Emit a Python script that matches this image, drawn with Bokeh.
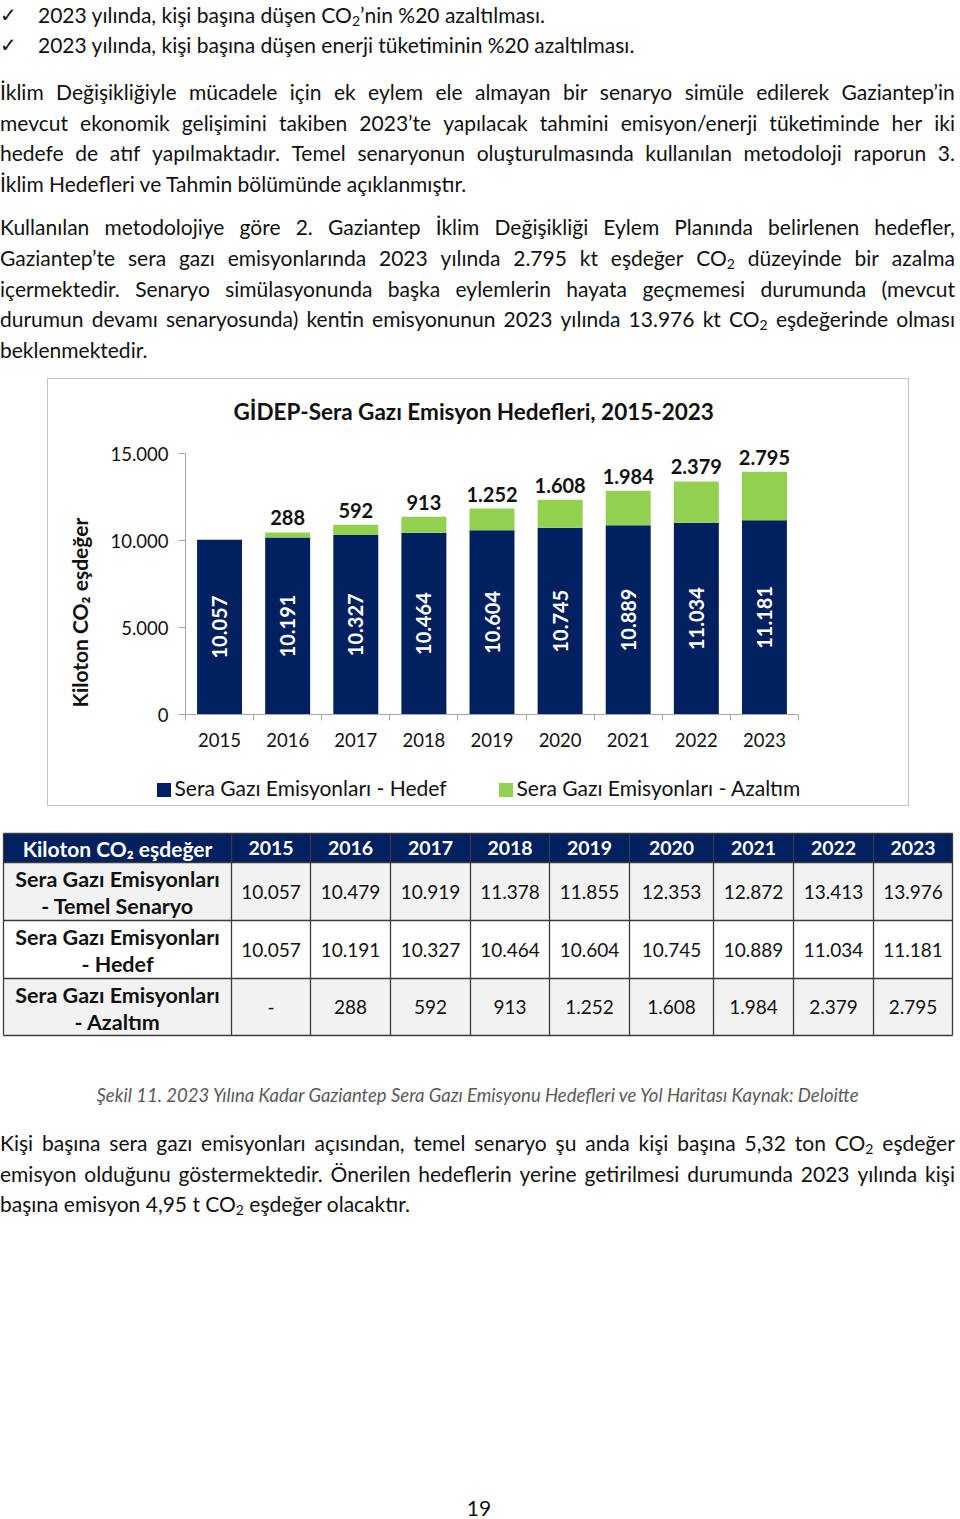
import math
from bokeh.plotting import figure
from bokeh.models import Range1d, FixedTicker, Title, Div, Spacer, ColumnDataSource
from bokeh.layouts import column, row
from bokeh.core.properties import value
from bokeh.embed import file_html
from bokeh.resources import INLINE

# ---------------- data ----------------
years = [2015, 2016, 2017, 2018, 2019, 2020, 2021, 2022, 2023]
temel = [10057, 10479, 10919, 11378, 11855, 12353, 12872, 13413, 13976]
hedef = [10057, 10191, 10327, 10464, 10604, 10745, 10889, 11034, 11181]
azaltim = [0, 288, 592, 913, 1252, 1608, 1984, 2379, 2795]
y_ticks = [0, 5000, 10000, 15000]
series_names = ["Sera Gazı Emisyonları - Hedef", "Sera Gazı Emisyonları - Azaltım"]
row_heads = ["- Temel Senaryo", "- Hedef", "- Azaltım"]
row_prefix = "Sera Gazı Emisyonları"
table_corner = "Kiloton CO₂ eşdeğer"
chart_title = "GİDEP-Sera Gazı Emisyon Hedefleri, 2015-2023"
y_title = "Kiloton CO₂ eşdeğer"

NAVY = "#002060"
GREEN = "#92D050"
FONT = "Lato"
TXT = "#111111"
PAGE_W = 960


def tr(v):
    return f"{v:,}".replace(",", ".")


SUB2 = "CO<sub style='font-size:14px;vertical-align:-3px;line-height:0'>2</sub>"
CHECK = ("<span style=\"position:absolute;left:-38px;font-family:'DejaVu Sans';"
         "font-size:20px\">✓</span>")
TEXT_W = 955


# ---------------- text blocks ----------------
def jline(top, text):
    spans = "".join(f"<span>{w.replace('{CO2}', SUB2)}</span>" for w in text.split(" "))
    return (f"<div style='position:absolute;left:0;top:{top}px;width:{TEXT_W}px;height:30px;"
            f"line-height:30px;display:flex;justify-content:space-between;white-space:nowrap;'>"
            f"{spans}</div>")


def lline(top, text, left=0, pre=""):
    return (f"<div style='position:absolute;left:{left}px;top:{top}px;width:{TEXT_W-left}px;"
            f"height:30px;line-height:30px;white-space:nowrap;'>{pre}{text.replace('{CO2}', SUB2)}</div>")


top_lines = [
    (15, "2023 yılında, kişi başına düşen {CO2}’nin %20 azaltılması.", "bullet"),
    (45, "2023 yılında, kişi başına düşen enerji tüketiminin %20 azaltılması.", "bullet"),
    (92, "İklim Değişikliğiyle mücadele için ek eylem ele almayan bir senaryo simüle edilerek Gaziantep’in", "j"),
    (123, "mevcut ekonomik gelişimini takiben 2023’te yapılacak tahmini emisyon/enerji tüketiminde her iki", "j"),
    (153, "hedefe de atıf yapılmaktadır. Temel senaryonun oluşturulmasında kullanılan metodoloji raporun 3.", "j"),
    (184, "İklim Hedefleri ve Tahmin bölümünde açıklanmıştır.", "l"),
    (227, "Kullanılan metodolojiye göre 2. Gaziantep İklim Değişikliği Eylem Planında belirlenen hedefler,", "j"),
    (258, "Gaziantep’te sera gazı emisyonlarında 2023 yılında 2.795 kt eşdeğer {CO2} düzeyinde bir azalma", "j"),
    (289, "içermektedir. Senaryo simülasyonunda başka eylemlerin hayata geçmemesi durumunda (mevcut", "j"),
    (319, "durumun devamı senaryosunda) kentin emisyonunun 2023 yılında 13.976 kt {CO2} eşdeğerinde olması", "j"),
    (350, "beklenmektedir.", "l"),
]


def render(lines, offset):
    out = []
    for y, t, kind in lines:
        top = y - offset - 15
        if kind == "j":
            out.append(jline(top, t))
        elif kind == "bullet":
            out.append(lline(top, t, left=38, pre=CHECK))
        else:
            out.append(lline(top, t))
    return "".join(out)


BODY = "font-family:'Lato';font-size:21px;color:#111;"
top_html = (f"<div style=\"position:relative;width:{PAGE_W}px;height:378px;{BODY}\">"
            + render(top_lines, 0) + "</div>")
top_div = Div(text=top_html, width=PAGE_W, height=378, margin=0)

bottom_lines = [
    (1143, "Kişi başına sera gazı emisyonları açısından, temel senaryo şu anda kişi başına 5,32 ton {CO2} eşdeğer", "j"),
    (1174, "emisyon olduğunu göstermektedir. Önerilen hedeflerin yerine getirilmesi durumunda 2023 yılında kişi", "j"),
    (1204, "başına emisyon 4,95 t {CO2} eşdeğer olacaktır.", "l"),
]
caption = ("<div style=\"position:absolute;left:0;top:23px;width:955px;height:24px;line-height:24px;"
           "text-align:center;font-style:italic;font-size:18.5px;color:#5a5a5a;\">"
           "Şekil 11. 2023 Yılına Kadar Gaziantep Sera Gazı Emisyonu Hedefleri ve Yol Haritası Kaynak: Deloitte</div>")
bottom_html = (f"<div style=\"position:relative;width:{PAGE_W}px;height:170px;{BODY}\">" + caption
               + render(bottom_lines, 1060) + "</div>")
bottom_div = Div(text=bottom_html, width=PAGE_W, height=170, margin=0)

page_div = Div(text="<div style=\"width:958px;text-align:center;font-family:'Lato';font-size:21px;"
                    "color:#111;line-height:23px\">19</div>", width=PAGE_W, height=23, margin=0)

# ---------------- chart ----------------
xs = [i + 1 for i in range(len(years))]
src = ColumnDataSource(dict(
    x=xs, hedef=hedef, azaltim=azaltim,
    mid=[h / 2 for h in hedef],
    top=[h + a for h, a in zip(hedef, azaltim)],
    hedef_lbl=[tr(h) for h in hedef],
    az_lbl=[tr(a) if a > 0 else "" for a in azaltim],
))

chart = figure(width=860, height=381, x_range=Range1d(0.5, len(years) + 0.5),
               y_range=Range1d(0, 16000), output_backend="svg", toolbar_location=None,
               min_border_left=136, min_border_right=110, min_border_top=57,
               min_border_bottom=46, margin=0)
chart.xgrid.visible = False
chart.ygrid.visible = False
chart.outline_line_color = None

chart.title.text = chart_title
chart.title.align = "left"
chart.title.offset = 48
chart.title.standoff = 23
chart.title.text_font = FONT
chart.title.text_font_style = "bold"
chart.title.text_font_size = "22.5px"
chart.title.text_color = TXT

rs = chart.vbar_stack(["hedef", "azaltim"], x="x", width=0.66, color=[NAVY, GREEN],
                      line_width=0, source=src)

chart.text(x="x", y="mid", text="hedef_lbl", angle=math.pi / 2, text_align="center",
           text_baseline="middle", text_color="white", text_font=value(FONT),
           text_font_style="bold", text_font_size="20px", source=src)
chart.text(x="x", y="top", text="az_lbl", text_align="center", text_baseline="bottom",
           y_offset=-7, text_color=TXT, text_font=value(FONT), text_font_style="bold",
           text_font_size="20px", source=src)

xa = chart.xaxis[0]
xa.ticker = FixedTicker(ticks=xs, minor_ticks=[i + 0.5 for i in range(len(years) + 1)])
xa.major_label_overrides = {x: str(y) for x, y in zip(xs, years)}
xa.major_tick_out = 0
xa.major_tick_in = 0
xa.minor_tick_out = 6
xa.minor_tick_in = 0
xa.minor_tick_line_color = "#a6a6a6"
xa.axis_line_color = "#a6a6a6"
xa.major_label_standoff = 12
xa.major_label_text_font = FONT
xa.major_label_text_font_size = "18.5px"
xa.major_label_text_color = TXT

ya = chart.yaxis[0]
ya.ticker = FixedTicker(ticks=y_ticks, minor_ticks=[])
ya.major_label_overrides = {t: tr(t) for t in y_ticks}
ya.bounds = (y_ticks[0], y_ticks[-1])
ya.major_tick_out = 7
ya.major_tick_in = 0
ya.major_tick_line_color = "#a6a6a6"
ya.axis_line_color = "#a6a6a6"
ya.major_label_standoff = 10
ya.major_label_text_font = FONT
ya.major_label_text_font_size = "18.5px"
ya.major_label_text_color = TXT

ylab = Title(text=y_title, align="left", offset=7, standoff=32, text_font=FONT,
             text_font_style="bold", text_font_size="21px", text_color=TXT)
chart.add_layout(ylab, "left")

# legend strip (HTML, inside the same bordered box)
leg_colors = [NAVY, GREEN]
leg_left = [108.5, 450.5]
leg_items = "".join(
    f"<div style='position:absolute;left:{x}px;top:15px;height:25px;line-height:25px;white-space:nowrap;'>"
    f"<span style='display:inline-block;width:14px;height:14px;background:{c};"
    f"vertical-align:-1px;margin-right:4px'></span>{n}</div>"
    for x, c, n in zip(leg_left, leg_colors, series_names))
leg_div = Div(text=f"<div style=\"position:relative;width:860px;height:45px;font-family:'Lato';"
                   f"font-size:21px;color:#111\">{leg_items}</div>",
              width=860, height=45, margin=0)

chart_box = column(chart, leg_div, margin=0, spacing=0,
                   styles={"border": "1.5px solid #c4c4c4"})

# ---------------- table ----------------
col_edges = [3, 231, 310, 390, 470, 549, 629, 713, 793, 873, 952]
row_edges = [833, 862, 920, 978, 1035]
row_fills = ["#f2f2f2", "#ffffff", "#f2f2f2"]

tab = figure(width=PAGE_W, height=253, x_range=Range1d(0, PAGE_W), y_range=Range1d(1060, 807),
             output_backend="svg", toolbar_location=None, x_axis_location=None,
             y_axis_location=None, min_border=0, margin=0)
tab.xgrid.visible = False
tab.ygrid.visible = False
tab.outline_line_color = None

tab.quad(left=[col_edges[0]], right=[col_edges[-1]], top=[row_edges[0]], bottom=[row_edges[1]],
         fill_color=NAVY, line_color=None)
for r in range(3):
    tab.quad(left=[col_edges[0]], right=[col_edges[-1]], top=[row_edges[r + 1]],
             bottom=[row_edges[r + 2]], fill_color=row_fills[r], line_color=None)
tab.segment(x0=col_edges, x1=col_edges, y0=[row_edges[0]] * len(col_edges),
            y1=[row_edges[-1]] * len(col_edges), line_color="#3c3c3c", line_width=1.3)
tab.segment(x0=[col_edges[0]] * len(row_edges), x1=[col_edges[-1]] * len(row_edges),
            y0=row_edges, y1=row_edges, line_color="#3c3c3c", line_width=1.3)

col_centers = [(a + b) / 2 for a, b in zip(col_edges[:-1], col_edges[1:])]
hdr_y = (row_edges[0] + row_edges[1]) / 2
tab.text(x=[col_centers[0]], y=[hdr_y], text=[table_corner], text_align="center",
         text_baseline="middle", text_color="white", text_font=value(FONT),
         text_font_style="bold", text_font_size="21px")
tab.text(x=col_centers[1:], y=[hdr_y] * len(years), text=[str(y) for y in years],
         text_align="center", text_baseline="middle", text_color="white",
         text_font=value(FONT), text_font_style="bold", text_font_size="19.5px")

rows_vals = [temel, hedef, azaltim]
for r, vals in enumerate(rows_vals):
    top = row_edges[r + 1]
    bot = row_edges[r + 2]
    mid = (top + bot) / 2
    tab.text(x=[col_centers[0]] * 2, y=[top + 16, top + 43], text=[row_prefix, row_heads[r]],
             text_align="center", text_baseline="middle", text_color=TXT,
             text_font=value(FONT), text_font_style="bold", text_font_size="21.5px")
    tab.text(x=col_centers[1:], y=[mid] * len(vals),
             text=[tr(v) if v > 0 else "-" for v in vals], text_align="center",
             text_baseline="middle", text_color=TXT, text_font=value(FONT),
             text_font_size="19px")

layout = column(top_div,
                row(Spacer(width=47, height=429, margin=0), chart_box, margin=0),
                tab, bottom_div, Spacer(width=PAGE_W, height=266, margin=0), page_div,
                margin=0)

open("out.html", "w").write(file_html(layout, INLINE))
